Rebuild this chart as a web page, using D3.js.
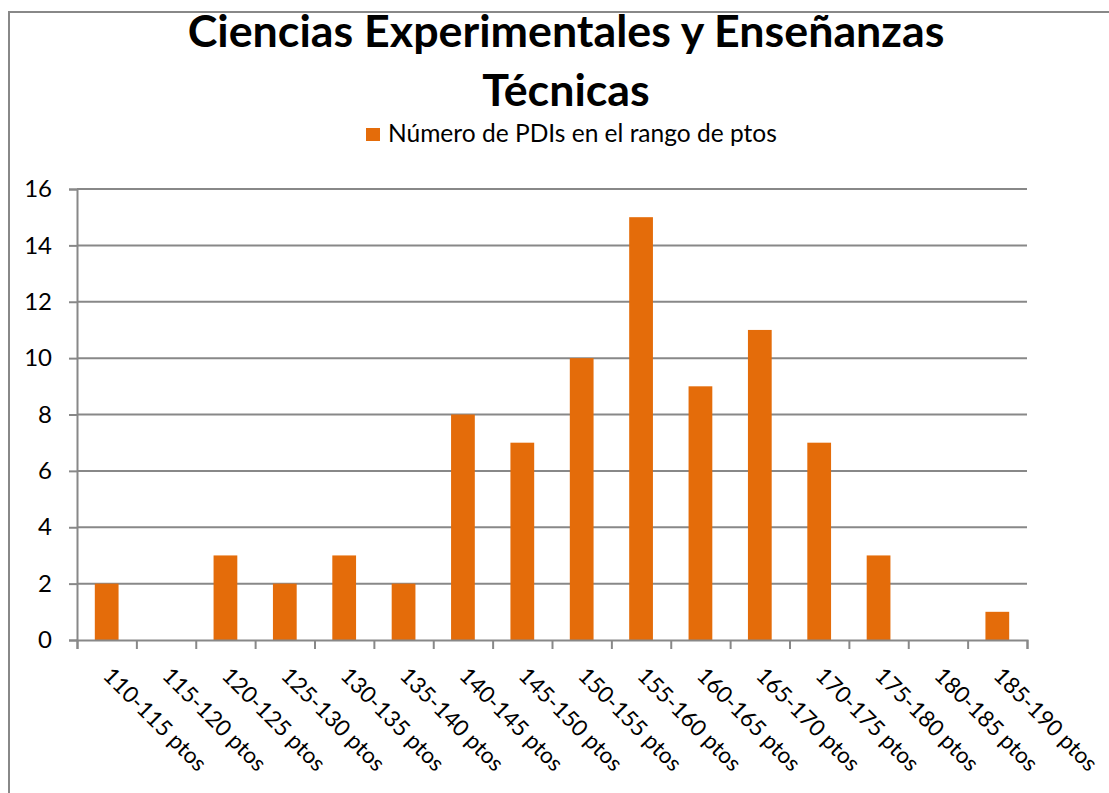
<!DOCTYPE html>
<html>
<head>
<meta charset="utf-8">
<script src="https://cdn.jsdelivr.net/npm/d3@7"></script>
<style>
  body { margin: 0; background: #fff; }
  text { font-family: Lato, "Open Sans", sans-serif; fill: #000; }
</style>
</head>
<body>
<div id="chart"></div>
<script>
var W = 1109, H = 793;

// chart data
var categories = ['110-115 ptos','115-120 ptos','120-125 ptos','125-130 ptos','130-135 ptos',
  '135-140 ptos','140-145 ptos','145-150 ptos','150-155 ptos','155-160 ptos','160-165 ptos',
  '165-170 ptos','170-175 ptos','175-180 ptos','180-185 ptos','185-190 ptos'];
var values = [2, 0, 3, 2, 3, 2, 8, 7, 10, 15, 9, 11, 7, 3, 0, 1];
var yTicks = [0, 2, 4, 6, 8, 10, 12, 14, 16];
var seriesName = 'Número de PDIs en el rango de ptos';
var titleLines = ['Ciencias Experimentales y Enseñanzas', 'Técnicas'];

var orange = '#E46C0A';
var gridGray = '#888888';

var margin = {left: 77, right: W - 1027, top: 189, bottom: H - 640};

var svg = d3.select('#chart').append('svg')
  .attr('width', W)
  .attr('height', H);

// shrink/grow a text so that it fills the given width
function fitWidth(sel, target) {
  sel.each(function() {
    var fs = parseFloat(d3.select(this).attr('font-size'));
    var len = this.getComputedTextLength();
    d3.select(this).attr('font-size', (fs * target / len) + 'px');
  });
}

// chart area border (only top and left edges fall inside the picture)
svg.append('rect')
  .attr('x', 9).attr('y', 12)
  .attr('width', 1200).attr('height', 900)
  .attr('fill', 'none')
  .attr('stroke', gridGray)
  .attr('stroke-width', 2);

var x = d3.scaleBand()
  .domain(categories)
  .range([margin.left, W - margin.right])
  .paddingInner(0.6)
  .paddingOuter(0.3);

var xEdge = d3.scaleLinear()
  .domain([0, categories.length])
  .range([margin.left, W - margin.right]);

var y = d3.scaleLinear()
  .domain([0, 16])
  .range([H - margin.bottom, margin.top]);

// title
var title = svg.append('g').selectAll('text')
  .data(titleLines)
  .enter()
  .append('text')
  .attr('x', 566)
  .attr('y', function(d, i) { return 47 + i * 59; })
  .attr('text-anchor', 'middle')
  .attr('font-size', '36px')
  .attr('font-weight', 'bold')
  .text(function(d) { return d; });
fitWidth(title.filter(function(d, i) { return i === 0; }), 757);
title.filter(function(d, i) { return i === 1; })
  .attr('font-size', title.filter(function(d, i) { return i === 0; }).attr('font-size'));

// legend
var legend = svg.append('g').attr('class', 'legend');
legend.append('rect')
  .attr('x', 366).attr('y', 128)
  .attr('width', 14).attr('height', 13)
  .attr('fill', orange);
legend.append('text')
  .attr('x', 388)
  .attr('y', 141.5)
  .attr('font-size', '19px')
  .text(seriesName)
  .call(fitWidth, 389);

// gridlines
svg.append('g').selectAll('line')
  .data(yTicks.slice(1))
  .enter()
  .append('line')
  .attr('x1', margin.left).attr('x2', W - margin.right)
  .attr('y1', function(d) { return y(d); })
  .attr('y2', function(d) { return y(d); })
  .attr('stroke', gridGray)
  .attr('stroke-width', 2);

// y axis
var yAxis = svg.append('g')
  .attr('transform', 'translate(' + margin.left + ',0)')
  .call(d3.axisLeft(y).tickValues(yTicks).tickSize(8).tickPadding(17).tickFormat(d3.format('d')));
yAxis.select('.domain').attr('stroke', gridGray).attr('stroke-width', 2);
yAxis.selectAll('.tick line').attr('stroke', gridGray).attr('stroke-width', 2);
yAxis.selectAll('.tick text')
  .attr('font-size', '24px')
  .attr('font-family', 'Lato, sans-serif')
  .attr('fill', '#000');

// bars
svg.append('g').selectAll('rect')
  .data(values)
  .enter()
  .append('rect')
  .attr('x', function(d, i) { return x(categories[i]); })
  .attr('y', function(d) { return y(d); })
  .attr('width', x.bandwidth())
  .attr('height', function(d) { return y(0) - y(d); })
  .attr('fill', orange);

// x axis
var xAxis = svg.append('g')
  .attr('transform', 'translate(0,' + y(0) + ')')
  .call(d3.axisBottom(xEdge).tickValues(d3.range(categories.length + 1)).tickSize(9).tickFormat(''));
xAxis.select('.domain').attr('stroke', gridGray).attr('stroke-width', 2);
xAxis.selectAll('.tick line').attr('stroke', gridGray).attr('stroke-width', 2);

// category labels
svg.append('g').selectAll('text')
  .data(categories)
  .enter()
  .append('text')
  .attr('transform', function(d) {
    return 'translate(' + (x(d) + x.bandwidth() / 2 - 5) + ',' + (y(0) + 37) + ') rotate(45)';
  })
  .attr('font-size', '22.5px')
  .attr('text-anchor', 'start')
  .text(function(d) { return d; });
</script>
</body>
</html>
